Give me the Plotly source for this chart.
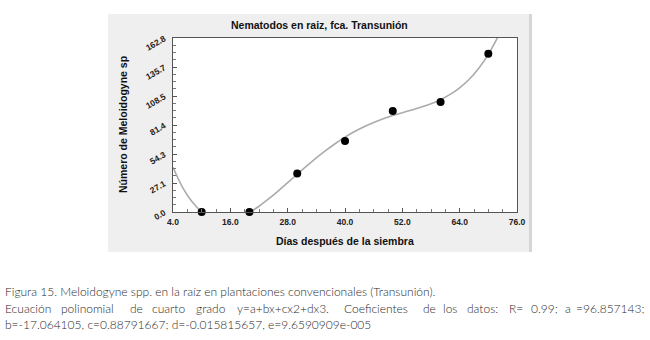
import plotly.graph_objects as go

# ---- data ----
days = [10, 20, 30, 40, 50, 60, 70]
nematodes = [0.0, 0.0, 36.0, 66.5, 94.5, 103.0, 148.0]

curve_x = [4, 6, 8, 10, 12, 14, 16, 18, 20, 22, 24, 26, 28, 30, 32, 34, 36, 38,
           40, 42, 44, 46, 48, 50, 52, 54, 56, 58, 60, 62, 64, 66, 68, 70, 72]
curve_y = [41.8, 23.1, 9.5, 0.2, -5.4, -7.7, -7.3, -4.7, -0.3, 5.4, 12.2, 19.6,
           27.4, 35.3, 43.1, 50.6, 57.6, 64.1, 70.0, 75.3, 79.8, 83.8, 87.2,
           90.2, 92.9, 95.5, 98.2, 101.3, 105.1, 110.0, 116.2, 124.2, 134.5,
           147.5, 163.8]

x_tickvals = [4, 16, 28, 40, 52, 64, 76]
x_ticktext = ["4.0", "16.0", "28.0", "40.0", "52.0", "64.0", "76.0"]
y_tickvals = [0.0, 27.13, 54.27, 81.4, 108.53, 135.67, 162.8]
y_ticktext = ["0.0", "27.1", "54.3", "81.4", "108.5", "135.7", "162.8"]

title = "Nematodos en raiz, fca. Transunión"
x_title = "Días después de la siembra"
y_title = "Número de Meloidogyne sp"

caption1 = "Figura 15. Meloidogyne spp. en la raíz en plantaciones convencionales (Transunión)."
caption2_words = ["Ecuación", "polinomial", "de", "cuarto", "grado", "y=a+bx+cx2+dx3.",
                  "Coeficientes", "de", "los", "datos:", "R=", "0.99;", "a", "=96.857143;"]
caption3 = "b=-17.064105, c=0.88791667; d=-0.015815657, e=9.6590909e-005"

# ---- layout geometry (pixels) ----
W, H = 650, 340
L, R, T, B = 173, 517, 38, 212
pw, ph = R - L, B - T


def px(x):
    return (x - L) / pw


def py(y):
    return (B - y) / ph


word_x = [3, 59, 128, 150, 194, 235, 342, 421, 441, 465, 507, 529, 563, 574]

fig = go.Figure()
fig.add_trace(go.Scatter(x=curve_x, y=curve_y, mode="lines", line_shape="spline",
                         line=dict(color="#ababab", width=1.6), hoverinfo="skip",
                         showlegend=False))
fig.add_trace(go.Scatter(x=days, y=nematodes, mode="markers", cliponaxis=False,
                         marker=dict(color="black", size=8), showlegend=False))

axfont = dict(family="Liberation Sans, Arial", size=8.5, color="#222", weight="bold")

fig.update_xaxes(range=[4, 76], tickvals=x_tickvals, ticktext=x_ticktext,
                 showgrid=False, zeroline=False, showline=True, mirror=True,
                 linecolor="#555", linewidth=1, ticks="inside", ticklen=4,
                 tickcolor="#555", tickfont=axfont, ticklabelstandoff=2,
                 minor=dict(dtick=3, tick0=4, ticks="inside", ticklen=3,
                            tickcolor="#777", showgrid=False))
fig.update_yaxes(range=[0, 162.8], tickvals=y_tickvals, ticktext=y_ticktext,
                 tickangle=-30, showgrid=False, zeroline=False, showline=True,
                 mirror=True, linecolor="#555", linewidth=1, ticks="inside",
                 ticklen=4, tickcolor="#555", tickfont=axfont,
                 ticklabelstandoff=6,
                 minor=dict(dtick=162.8 / 24, tick0=0, ticks="inside", ticklen=3,
                            tickcolor="#777", showgrid=False))

shapes = [
    dict(type="rect", xref="paper", yref="paper", x0=px(108), x1=px(532),
         y0=py(252), y1=py(14), fillcolor="#efefef", line=dict(width=0),
         layer="below"),
    dict(type="rect", xref="paper", yref="paper", x0=px(529), x1=px(532),
         y0=py(252), y1=py(14), fillcolor="#d6d6d6", line=dict(width=0),
         layer="below"),
    dict(type="rect", xref="paper", yref="paper", x0=0, x1=1, y0=0, y1=1,
         fillcolor="white", line=dict(width=0), layer="below"),
]

tfont = dict(family="Liberation Sans, Arial", size=10.5, color="#111", weight="bold")
cfont = dict(family="Lato, Open Sans", size=12, color="#2a2a2a", weight=300)

ann = [
    dict(text=title, x=px(319), y=py(25), xref="paper", yref="paper",
         showarrow=False, font=tfont, xanchor="center", yanchor="middle"),
    dict(text=x_title, x=px(345), y=py(241), xref="paper", yref="paper",
         showarrow=False, font=tfont, xanchor="center", yanchor="middle"),
    dict(text=y_title, x=px(123), y=py(125), xref="paper", yref="paper",
         showarrow=False, font=tfont, textangle=-90, xanchor="center",
         yanchor="middle"),
    dict(text=caption1, x=px(3), y=py(291), xref="paper", yref="paper",
         showarrow=False, font=cfont, xanchor="left", yanchor="middle"),
    dict(text=caption3, x=px(3), y=py(324), xref="paper", yref="paper",
         showarrow=False, font=cfont, xanchor="left", yanchor="middle"),
]
for w, xw in zip(caption2_words, word_x):
    ann.append(dict(text=w, x=px(xw), y=py(308), xref="paper", yref="paper",
                    showarrow=False, font=cfont, xanchor="left", yanchor="middle"))

fig.update_layout(width=W, height=H, margin=dict(l=L, r=W - R, t=T, b=H - B),
                  paper_bgcolor="white", plot_bgcolor="white", shapes=shapes,
                  annotations=ann, showlegend=False)

fig.write_html("out.html", config={"displayModeBar": False},
               post_script="document.body.style.margin='0';")
